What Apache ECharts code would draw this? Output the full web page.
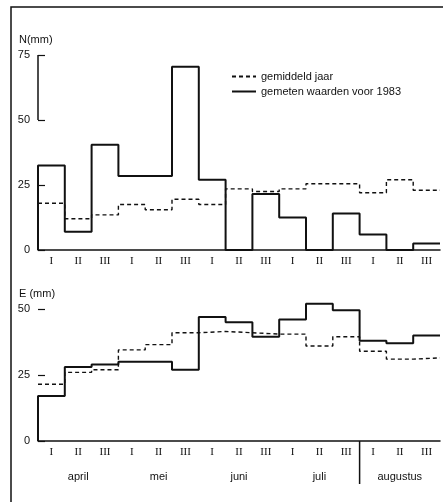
<!DOCTYPE html>
<html>
<head>
<meta charset="utf-8">
<script src="https://cdn.jsdelivr.net/npm/echarts@6/dist/echarts.min.js"></script>
<style>
  html, body { margin: 0; padding: 0; background: #fff; }
  #chart { width: 443px; height: 502px; }
</style>
</head>
<body>
<div id="chart"></div>
<script>
// decades (I, II, III) per month, april .. augustus
const decades = ['I', 'II', 'III', 'I', 'II', 'III', 'I', 'II', 'III', 'I', 'II', 'III', 'I', 'II', 'III'];
const months = ['april', 'mei', 'juni', 'juli', 'augustus'];

// neerslag N (mm) per decade
const nGemiddeld = [18, 12, 13.5, 17.5, 15.5, 19.5, 17.5, 23.5, 22.5, 23.5, 25.5, 25.5, 22, 27, 23];
const nGemeten = [32.5, 7, 40.5, 28.5, 28.5, 70.5, 27, 0, 21.5, 12.5, 0, 14, 6, 0, 2.5];

// verdamping E (mm) per decade
const eGemiddeld = [21.5, 26, 27, 34.5, 36.5, 41, 41.5, 41, 40.5, 40.5, 36, 39.5, 34, 31, 31.5];
const eGemeten = [17, 28, 29, 30, 30, 27, 47, 45, 39.5, 46, 52, 49.5, 38, 37, 40];

const nameAvg = 'gemiddeld jaar';
const nameMeas = 'gemeten waarden voor 1983';

// step points: each decade value holds from its start to the next decade
const steps = (values, fromZero) => {
  const pts = fromZero ? [[0, 0]] : [];
  values.forEach((v, i) => pts.push([i, v]));
  pts.push([values.length, values[values.length - 1]]);
  return pts;
};

const font = 'Liberation Sans';
const ink = '#111';

const decadeAxis = (gridIndex) => ({
  type: 'category',
  gridIndex,
  data: decades,
  boundaryGap: true,
  axisLine: { lineStyle: { color: ink, width: 1.5 } },
  axisTick: { inside: true, length: 5, interval: 0, lineStyle: { color: ink, width: 1.2 } },
  axisLabel: { interval: 0, margin: 6, color: ink, fontFamily: 'Liberation Serif', fontSize: 11 },
  splitLine: { show: false },
});

const hiddenValueAxis = (gridIndex) => ({
  type: 'value', gridIndex, min: 0, max: decades.length, show: false,
});

const valueAxis = (gridIndex, max) => ({
  type: 'value',
  gridIndex,
  min: 0,
  max,
  interval: 25,
  axisLine: { show: false },
  axisTick: { show: true, inside: true, length: 7, lineStyle: { color: ink, width: 1.2 } },
  axisLabel: { color: ink, fontFamily: font, fontSize: 11, margin: 8 },
  splitLine: { show: false },
});

const dashed = { color: ink, width: 1.4, type: [4, 3] };
const solid = { color: ink, width: 2 };

const stepSeries = (name, data, xAxisIndex, yAxisIndex, lineStyle) => ({
  name,
  type: 'line',
  step: 'end',
  symbol: 'none',
  clip: false,
  xAxisIndex,
  yAxisIndex,
  data,
  lineStyle,
  itemStyle: { color: ink },
  silent: true,
});

const chart = echarts.init(document.getElementById('chart'));

const nAvgSeries = stepSeries(nameAvg, steps(nGemiddeld, false), 1, 0, dashed);
// bracket on the N axis between 50 and 75
nAvgSeries.markLine = {
  symbol: 'none',
  silent: true,
  label: { show: false },
  lineStyle: { color: ink, width: 1.5, type: 'solid' },
  data: [[{ coord: [0, 50] }, { coord: [0, 75] }]],
};

const frame = {
  type: 'rect',
  silent: true,
  shape: { x: 11, y: 7, width: 460, height: 520 },
  style: { fill: 'none', stroke: ink, lineWidth: 1.5 },
};

chart.setOption({
  animation: false,
  backgroundColor: '#fff',
  textStyle: { fontFamily: font, color: ink },
  title: [
    { text: 'N(mm)', left: 14, top: 29, textStyle: { fontSize: 11, fontWeight: 'normal', color: ink, fontFamily: font } },
    { text: 'E (mm)', left: 14, top: 283, textStyle: { fontSize: 11, fontWeight: 'normal', color: ink, fontFamily: font } },
  ],
  legend: {
    orient: 'vertical',
    left: 226,
    top: 66,
    itemGap: 4,
    itemWidth: 24,
    itemHeight: 8,
    data: [nameAvg, nameMeas],
    itemStyle: { opacity: 0 },
    textStyle: { fontSize: 11, color: ink, fontFamily: font },
    selectedMode: false,
  },
  grid: [
    { left: 38, right: 3, top: 55, height: 195 },
    { left: 38, right: 3, top: 309, height: 132 },
  ],
  xAxis: [
    decadeAxis(0),
    hiddenValueAxis(0),
    decadeAxis(1),
    hiddenValueAxis(1),
    {
      type: 'category',
      gridIndex: 1,
      position: 'bottom',
      offset: 26,
      data: months,
      boundaryGap: true,
      axisLine: { show: false },
      axisTick: { show: false },
      axisLabel: { interval: 0, margin: 4, color: ink, fontFamily: font, fontSize: 11 },
    },
  ],
  yAxis: [valueAxis(0, 75), valueAxis(1, 50)],
  series: [
    nAvgSeries,
    stepSeries(nameMeas, steps(nGemeten, true), 1, 0, solid),
    stepSeries(nameAvg, steps(eGemiddeld, false), 3, 1, dashed),
    stepSeries(nameMeas, steps(eGemeten, true), 3, 1, solid),
  ],
  graphic: [frame],
});

// separator between juli and augustus below the E axis
const sep = chart.convertToPixel({ xAxisIndex: 3, yAxisIndex: 1 }, [12, 0]);
chart.setOption({
  graphic: [
    frame,
    {
      type: 'line',
      silent: true,
      shape: { x1: sep[0], y1: sep[1], x2: sep[0], y2: sep[1] + 43 },
      style: { stroke: ink, lineWidth: 1.5 },
    },
  ],
});
</script>
</body>
</html>
